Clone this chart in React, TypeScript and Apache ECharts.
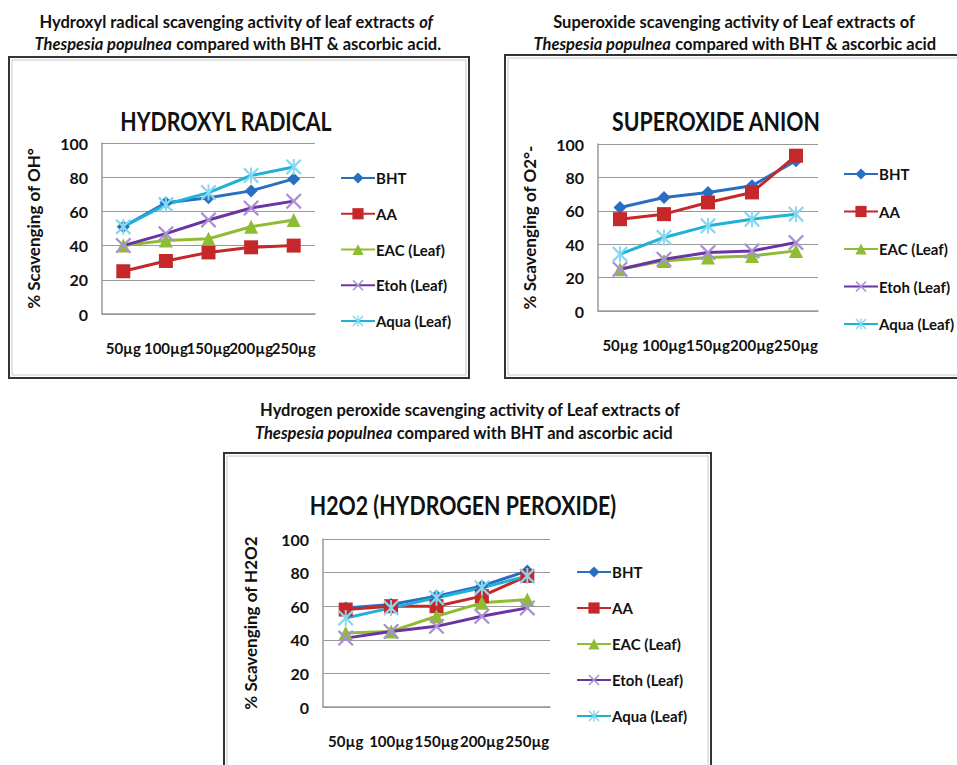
import React, { useEffect, useRef } from "react";
import * as echarts from "echarts";

const categories = ["50µg", "100µg", "150µg", "200µg", "250µg"];
const seriesNames = ["BHT", "AA", "EAC (Leaf)", "Etoh (Leaf)", "Aqua (Leaf)"];

// Hydroxyl radical
const ohBHT = [51, 65, 68, 72, 79];
const ohAA = [25, 31, 36, 39, 40];
const ohEAC = [40, 43, 44, 51, 55];
const ohEtoh = [40, 47, 55, 62, 66];
const ohAqua = [51, 64, 71, 81, 86];

// Superoxide anion
const soBHT = [62, 68, 71, 75, 90];
const soAA = [55, 58, 65, 71, 93];
const soEAC = [25, 30, 32, 33, 36];
const soEtoh = [25, 31, 35, 36, 41];
const soAqua = [34, 44, 51, 55, 58];

// Hydrogen peroxide
const hpBHT = [59, 61, 66, 72, 81];
const hpAA = [58, 60, 60, 66, 78];
const hpEAC = [44, 45, 54, 62, 64];
const hpEtoh = [41, 45, 48, 54, 59];
const hpAqua = [53, 59, 65, 71, 78];

const FONT = "Lato";

const xPath = "path://M0,1L1,0L5,4L9,0L10,1L6,5L10,9L9,10L5,6L1,10L0,9L4,5Z";
const starPath =
  "path://M0,1L1,0L5,4L9,0L10,1L6,5L10,9L9,10L5,6L1,10L0,9L4,5Z M4.4,0L5.6,0L5.6,10L4.4,10Z";

const styles = [
  { line: "#2a6ec4", marker: "#2a6ec4", symbol: "diamond", size: 13 },
  { line: "#c4282a", marker: "#c4282a", symbol: "rect", size: 14 },
  { line: "#8ebd33", marker: "#8ebd33", symbol: "triangle", size: 14 },
  { line: "#6b34a3", marker: "#a990d6", symbol: xPath, size: 16 },
  { line: "#1fb1d8", marker: "#86d8ef", symbol: starPath, size: 16 },
];

export default function App() {
  const ref = useRef<HTMLDivElement>(null);
  useEffect(() => {
    if (!ref.current) return;
    const chart = echarts.init(ref.current, undefined, { renderer: "svg" });

    const groups = [
      [ohBHT, ohAA, ohEAC, ohEtoh, ohAqua],
      [soBHT, soAA, soEAC, soEtoh, soAqua],
      [hpBHT, hpAA, hpEAC, hpEtoh, hpAqua],
    ];
    const grids = [
      { left: 102, top: 143, width: 213, height: 171 },
      { left: 598, top: 144, width: 220, height: 167 },
      { left: 323, top: 539, width: 227, height: 168 },
    ];
    const yNames = ["% Scavenging of OH°", "% Scavenging of O2°-", "% Scavenging of H2O2"];
    const yNameGaps = [60, 60, 64];
    const legendPos = [
      { left: 340, top: 170.5, itemGap: 20.75 },
      { left: 843, top: 166.5, itemGap: 22.5 },
      { left: 576, top: 564.5, itemGap: 21 },
    ];

    const series: any[] = [];
    groups.forEach((g, gi) => {
      g.forEach((vals, si) => {
        const st = styles[si];
        series.push({
          name: seriesNames[si],
          type: "line",
          xAxisIndex: gi,
          yAxisIndex: gi,
          data: vals,
          symbol: st.symbol,
          symbolSize: st.size,
          lineStyle: { color: st.line, width: 3 },
          itemStyle: { color: st.marker },
          emphasis: { disabled: true },
        });
      });
    });

    const TS = 16.5;
    const rich = {
      b: { fontFamily: FONT, fontWeight: "bold", fontSize: TS, fill: "#111" },
      i: { fontFamily: FONT, fontWeight: "bold", fontStyle: "italic", fontSize: TS, fill: "#111" },
    };
    const titleText = (x: number, y: number, text: string) => ({
      type: "text",
      x,
      y,
      style: {
        text,
        rich,
        align: "center",
        verticalAlign: "middle",
        font: `bold ${TS}px ${FONT}`,
      },
    });
    const innerTitle = (x: number, y: number, text: string) => ({
      type: "text",
      x,
      y,
      scaleX: 0.82,
      style: {
        text,
        align: "center",
        verticalAlign: "middle",
        fontFamily: FONT,
        fontSize: 26,
        fontWeight: "bold",
        fill: "#111",
      },
    });
    const frame = (x: number, y: number, w: number, h: number) => [
      { type: "rect", shape: { x, y, width: w, height: h }, style: { fill: "#fff", stroke: "#333", lineWidth: 2 } },
      {
        type: "rect",
        shape: { x: x + 3, y: y + 3, width: w - 6, height: h - 6 },
        style: { fill: "none", stroke: "#c8c8c8", lineWidth: 1 },
      },
    ];

    chart.setOption({
      animation: false,
      backgroundColor: "#fff",
      graphic: [
        ...frame(9, 57, 460, 321),
        ...frame(505, 55, 460, 323),
        ...frame(224, 453, 487, 330),
        titleText(236, 22, "{b|Hydroxyl radical scavenging activity of leaf extracts }{i|of}"),
        titleText(238, 44, "{i|Thespesia populnea}{b| compared with BHT & ascorbic acid.}"),
        titleText(734, 22, "{b|Superoxide scavenging activity of Leaf extracts of}"),
        titleText(735, 44, "{i|Thespesia populnea}{b| compared with BHT & ascorbic acid}"),
        titleText(470, 410, "{b|Hydrogen peroxide scavenging activity of Leaf extracts of}"),
        titleText(464, 433, "{i|Thespesia populnea}{b| compared with BHT and ascorbic acid}"),
        innerTitle(226, 121, "HYDROXYL RADICAL"),
        innerTitle(716, 121, "SUPEROXIDE ANION"),
        innerTitle(463, 505, "H2O2 (HYDROGEN PEROXIDE)"),
      ],
      grid: grids.map((g) => ({ ...g, containLabel: false })),
      xAxis: grids.map((_, i) => ({
        type: "category",
        gridIndex: i,
        data: categories,
        boundaryGap: true,
        axisLine: { lineStyle: { color: "#999", width: 1.5 } },
        axisTick: { show: false },
        axisLabel: {
          interval: 0,
          margin: 26,
          fontFamily: FONT,
          fontSize: 15,
          fontWeight: "bold",
          color: "#111",
        },
      })),
      yAxis: grids.map((_, i) => ({
        type: "value",
        gridIndex: i,
        min: 0,
        max: 100,
        interval: 20,
        name: yNames[i],
        nameLocation: "middle",
        nameRotate: 90,
        nameGap: yNameGaps[i],
        nameTextStyle: { fontFamily: FONT, fontSize: 17, fontWeight: "bold", color: "#111" },
        axisLine: { show: true, lineStyle: { color: "#999", width: 1.5 } },
        axisTick: { show: false },
        splitLine: { lineStyle: { color: "#999", width: 1.2 } },
        axisLabel: { margin: 14, fontFamily: FONT, fontSize: 16, fontWeight: "bold", color: "#111" },
      })),
      legend: legendPos.map((p) => ({
        orient: "vertical",
        left: p.left,
        top: p.top,
        padding: 0,
        itemGap: p.itemGap,
        itemWidth: 34,
        itemHeight: 14,
        data: seriesNames,
        selectedMode: false,
        textStyle: { fontFamily: FONT, fontSize: 15, fontWeight: "bold", color: "#111", padding: [0, 0, 0, -4] },
      })),
      series,
    });
    return () => chart.dispose();
  }, []);
  return (
    <div
      ref={ref}
      style={{ position: "fixed", left: 0, top: 0, width: 957, height: 765, background: "#fff" }}
    />
  );
}
